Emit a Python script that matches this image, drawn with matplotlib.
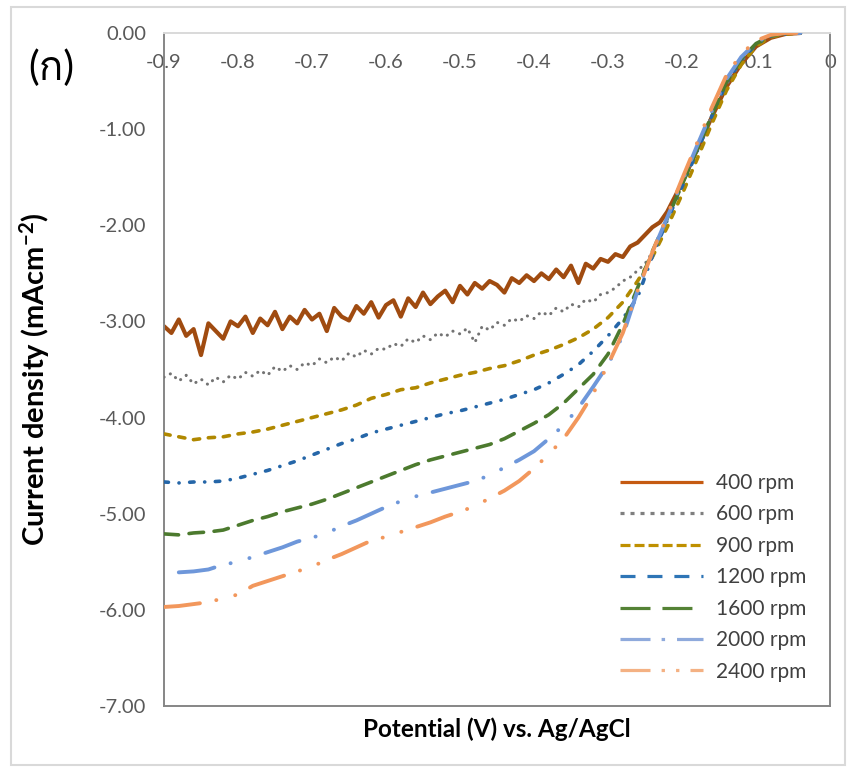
import matplotlib
matplotlib.use('Agg')
import matplotlib.pyplot as plt
import numpy as np
from matplotlib import font_manager, ft2font
from matplotlib.lines import Line2D
from matplotlib.patches import Rectangle
from matplotlib.ticker import FuncFormatter

# data: potential (V vs Ag/AgCl) and current density (mA cm^-2)
pot_fine = [-0.90, -0.89, -0.88, -0.87, -0.86, -0.85, -0.84, -0.83, -0.82, -0.81,
            -0.80, -0.79, -0.78, -0.77, -0.76, -0.75, -0.74, -0.73, -0.72, -0.71,
            -0.70, -0.69, -0.68, -0.67, -0.66, -0.65, -0.64, -0.63, -0.62, -0.61,
            -0.60, -0.59, -0.58, -0.57, -0.56, -0.55, -0.54, -0.53, -0.52, -0.51,
            -0.50, -0.49, -0.48, -0.47, -0.46, -0.45, -0.44, -0.43, -0.42, -0.41,
            -0.40, -0.39, -0.38, -0.37, -0.36, -0.35, -0.34, -0.33, -0.32, -0.31,
            -0.30, -0.29, -0.28, -0.27, -0.26, -0.25,
            -0.24, -0.23, -0.22, -0.20, -0.18, -0.16, -0.14, -0.12, -0.10, -0.08, -0.06, -0.04]

j_400 = [-3.05, -3.12, -2.98, -3.15, -3.08, -3.35, -3.02, -3.10, -3.18, -3.00,
         -3.05, -2.95, -3.12, -2.97, -3.04, -2.90, -3.08, -2.95, -3.02, -2.88,
         -2.98, -2.92, -3.10, -2.86, -2.95, -2.99, -2.84, -2.92, -2.80, -2.96,
         -2.83, -2.78, -2.95, -2.76, -2.85, -2.70, -2.82, -2.74, -2.68, -2.80,
         -2.63, -2.72, -2.60, -2.66, -2.58, -2.62, -2.70, -2.55, -2.60, -2.52,
         -2.58, -2.50, -2.56, -2.46, -2.54, -2.42, -2.60, -2.40, -2.45, -2.35,
         -2.38, -2.30, -2.33, -2.22, -2.18, -2.10,
         -2.02, -1.97, -1.86, -1.56, -1.22, -0.88, -0.56, -0.32, -0.14, -0.05, -0.01, 0.00]

j_600 = [-3.58, -3.54, -3.62, -3.56, -3.65, -3.60, -3.66, -3.58, -3.63, -3.56,
         -3.60, -3.53, -3.57, -3.51, -3.56, -3.47, -3.52, -3.46, -3.50, -3.43,
         -3.46, -3.39, -3.43, -3.37, -3.41, -3.33, -3.37, -3.30, -3.34, -3.28,
         -3.29, -3.23, -3.26, -3.18, -3.22, -3.15, -3.19, -3.12, -3.16, -3.10,
         -3.13, -3.07, -3.22, -3.05, -3.09, -3.01, -3.04, -2.97, -3.00, -2.94,
         -2.97, -2.90, -2.94, -2.86, -2.90, -2.82, -2.85, -2.77, -2.80, -2.72,
         -2.70, -2.65, -2.58, -2.54, -2.47, -2.40,
         -2.28, -2.12, -1.93, -1.58, -1.22, -0.86, -0.54, -0.30, -0.12, -0.04, -0.01, 0.00]

pot_coarse = [-0.90, -0.88, -0.86, -0.84, -0.82, -0.80, -0.78, -0.76, -0.74, -0.72,
              -0.70, -0.68, -0.66, -0.64, -0.62, -0.60, -0.58, -0.56, -0.54, -0.52,
              -0.50, -0.48, -0.46, -0.44, -0.42, -0.40, -0.38, -0.36, -0.34, -0.32,
              -0.30, -0.28, -0.26, -0.24, -0.22, -0.20, -0.18, -0.16, -0.14, -0.12,
              -0.10, -0.08, -0.06, -0.04]

j_900 = [-4.17, -4.20, -4.23, -4.21, -4.20, -4.17, -4.15, -4.12, -4.08, -4.04,
         -4.00, -3.96, -3.92, -3.87, -3.80, -3.76, -3.71, -3.69, -3.64, -3.60,
         -3.56, -3.53, -3.49, -3.46, -3.41, -3.35, -3.30, -3.24, -3.17, -3.08,
         -2.96, -2.80, -2.58, -2.33, -2.02, -1.68, -1.32, -0.95, -0.60, -0.33,
         -0.14, -0.04, -0.01, 0.00]

j_1200 = [-4.67, -4.68, -4.67, -4.67, -4.66, -4.63, -4.59, -4.55, -4.50, -4.45,
          -4.39, -4.33, -4.27, -4.22, -4.16, -4.12, -4.08, -4.04, -4.00, -3.96,
          -3.93, -3.89, -3.85, -3.81, -3.76, -3.71, -3.64, -3.55, -3.45, -3.31,
          -3.15, -2.97, -2.75, -2.32, -1.95, -1.60, -1.24, -0.87, -0.52, -0.28,
          -0.12, -0.03, -0.01, 0.00]

j_1600 = [-5.21, -5.22, -5.20, -5.19, -5.17, -5.12, -5.07, -5.03, -4.98, -4.94,
          -4.90, -4.85, -4.79, -4.73, -4.67, -4.61, -4.55, -4.49, -4.44, -4.40,
          -4.36, -4.32, -4.28, -4.22, -4.14, -4.06, -3.97, -3.85, -3.70, -3.55,
          -3.34, -3.03, -2.65, -2.27, -1.93, -1.58, -1.22, -0.86, -0.51, -0.27,
          -0.11, -0.03, 0.00, 0.00]

j_2000 = [np.nan, -5.61, -5.60, -5.58, -5.53, -5.50, -5.45, -5.40, -5.35, -5.29,
          -5.25, -5.20, -5.13, -5.07, -5.00, -4.93, -4.87, -4.82, -4.78, -4.74,
          -4.70, -4.66, -4.60, -4.52, -4.44, -4.35, -4.22, -4.08, -3.90, -3.68,
          -3.45, -3.15, -2.68, -2.28, -1.92, -1.55, -1.18, -0.82, -0.48, -0.25,
          -0.10, -0.02, 0.00, 0.00]

j_2400 = [-5.97, -5.96, -5.94, -5.92, -5.88, -5.84, -5.75, -5.70, -5.65, -5.60,
          -5.55, -5.48, -5.42, -5.35, -5.28, -5.24, -5.19, -5.14, -5.09, -5.03,
          -4.98, -4.92, -4.84, -4.76, -4.66, -4.53, -4.38, -4.22, -4.00, -3.75,
          -3.45, -3.12, -2.68, -2.28, -1.90, -1.52, -1.15, -0.78, -0.44, -0.22,
          -0.08, -0.02, 0.00, 0.00]

labels = ['400 rpm', '600 rpm', '900 rpm', '1200 rpm', '1600 rpm', '2000 rpm', '2400 rpm']

# find a font that has Thai glyphs for the panel label
thai_font = None
for f in font_manager.fontManager.ttflist:
    try:
        if 0x0E01 in ft2font.FT2Font(f.fname).get_charmap():
            thai_font = f.name
            break
    except Exception:
        pass

fams = ['Lato', 'DejaVu Sans']
if thai_font:
    fams = ['Lato', thai_font, 'DejaVu Sans']
plt.rcParams['font.family'] = fams
plt.rcParams['axes.unicode_minus'] = False
plt.rcParams['lines.scale_dashes'] = False
plt.rcParams['mathtext.fontset'] = 'custom'
plt.rcParams['mathtext.rm'] = 'Lato'
plt.rcParams['mathtext.bf'] = 'Lato:bold'

fig = plt.figure(figsize=(8.49, 7.69), dpi=100)
ax = fig.add_axes([164 / 849, 63 / 769, 666 / 849, 673 / 769])

# series drawn like the excel chart (dense data -> darker colours)
series = [
    (pot_fine, j_400, '#A04B10', 3.0, None),
    (pot_fine, j_600, '#737373', 2.2, (0.1, 5.0)),
    (pot_coarse, j_900, '#B08800', 2.6, (4.5, 6.3)),
    (pot_coarse, j_1200, '#2566A8', 2.6, (3.2, 7.6, 0.1, 7.6)),
    (pot_coarse, j_1600, '#4C7A2E', 2.6, (10.5, 7.6)),
    (pot_coarse, j_2000, '#6E97DA', 2.8, (26.0, 12.0, 0.1, 14.0, 0.1, 12.0)),
    (pot_coarse, j_2400, '#F2975C', 2.8, (26.0, 12.0, 0.1, 14.0, 0.1, 12.0)),
]
for i, (x, y, c, lw, dash) in enumerate(series):
    ln, = ax.plot(x, y, color=c, lw=lw, solid_capstyle='round',
                  dash_capstyle='round', solid_joinstyle='round', zorder=2 + i)
    if dash is not None:
        ln.set_dashes(dash)

ax.set_xlim(-0.9, 0)
ax.set_ylim(-7, 0)
ax.set_xticks([-0.9, -0.8, -0.7, -0.6, -0.5, -0.4, -0.3, -0.2, -0.1, 0])
ax.set_yticks([0, -1, -2, -3, -4, -5, -6, -7])
ax.xaxis.set_major_formatter(FuncFormatter(lambda v, p: '0' if abs(v) < 1e-9 else '%.1f' % v))
ax.yaxis.set_major_formatter(FuncFormatter(lambda v, p: '%.2f' % v))

# x labels sit just under the top line (axis crosses at 0)
ax.xaxis.set_ticks_position('top')
ax.tick_params(axis='x', length=0, pad=-27, labelsize=14.5, labelcolor='#595959')
ax.tick_params(axis='y', length=0, pad=13, labelsize=14.5, labelcolor='#595959')

for side in ['left', 'bottom', 'right']:
    ax.spines[side].set_color('#868686')
    ax.spines[side].set_linewidth(1.4)
ax.spines['top'].set_color('#D9D9D9')
ax.spines['top'].set_linewidth(1.4)

ax.set_ylabel('Current density (mAcm$\\mathbf{^{-2}}$)', fontsize=21, fontweight='bold')
ax.yaxis.set_label_coords(-0.168, 0.486)
ax.set_xlabel('Potential (V) vs. Ag/AgCl', fontsize=17.5, fontweight='bold')
ax.xaxis.set_label_position('bottom')
ax.xaxis.set_label_coords(0.5, -0.017)
ax.xaxis.label.set_va('top')

fig.text(28 / 849, 1 - 68 / 769, '(ก)', fontsize=29, ha='left', va='center')

# legend uses the lighter excel legend styles
leg_colors = ['#C55A11', '#7F7F7F', '#BF9000', '#2E75B6', '#548235', '#8FAADC', '#F4B183']
leg_dashes = [None, (2.9, 4.3), (7.2, 2.9), (10.8, 8.6), (21.6, 8.6),
              (21.6, 8.0, 2.5, 8.6), (21.6, 8.0, 2.4, 8.0, 2.4, 8.0)]
handles = []
for c, d in zip(leg_colors, leg_dashes):
    h = Line2D([], [], color=c, lw=2.3, solid_capstyle='butt', dash_capstyle='butt')
    if d is not None:
        h.set_dashes(d)
    handles.append(h)
leg = ax.legend(handles, labels, loc='upper left', bbox_to_anchor=(620 / 849, 1 - 473 / 769),
                bbox_transform=fig.transFigure, frameon=False, fontsize=15,
                handlelength=4.0, handletextpad=0.6, labelspacing=0.55,
                borderpad=0, borderaxespad=0)
for t in leg.get_texts():
    t.set_color('#404040')

# light outer chart border
fig.patches.append(Rectangle((11 / 849, 4 / 769), 834 / 849, 758 / 769, transform=fig.transFigure,
                             fill=False, edgecolor='#D9D9D9', lw=1.5))

fig.savefig('out.png', dpi=100)
